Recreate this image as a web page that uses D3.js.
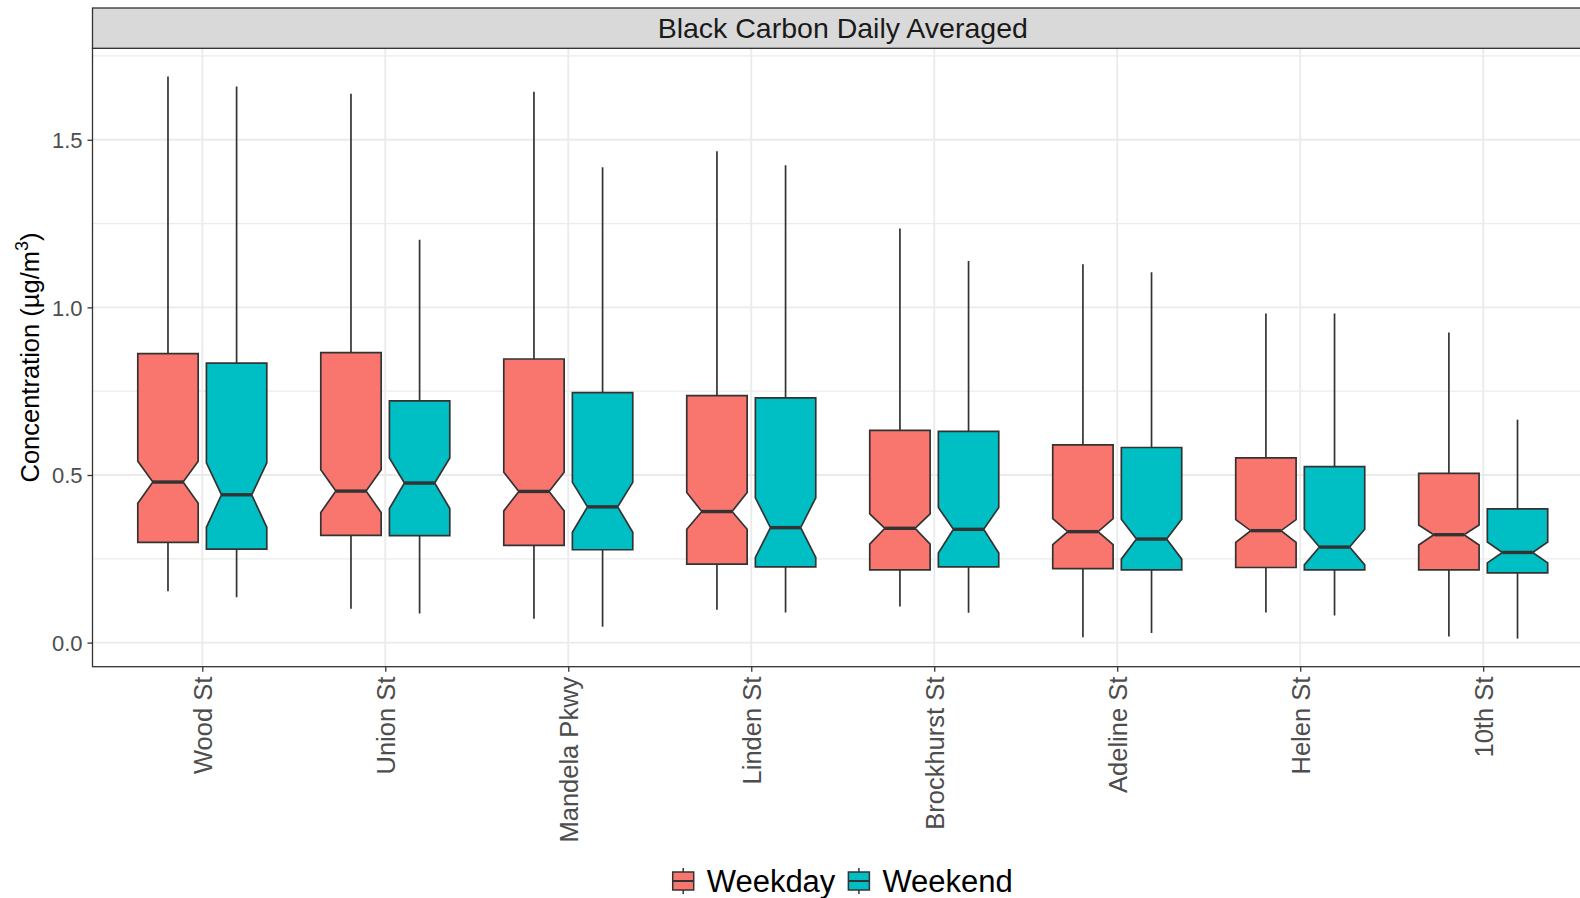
<!DOCTYPE html>
<html>
<head>
<meta charset="utf-8">
<script src="https://cdn.jsdelivr.net/npm/d3@7"></script>
<style>
  html, body { margin: 0; padding: 0; background: #fff; }
  svg { display: block; font-family: "Liberation Sans", Arial, sans-serif; }
</style>
</head>
<body>
<svg id="chart" width="1580" height="898"></svg>
<script>
// ---------------- data ----------------
const categories = ["Wood St", "Union St", "Mandela Pkwy", "Linden St", "Brockhurst St", "Adeline St", "Helen St", "10th St"];
const groups = ["Weekday", "Weekend"];
const groupColors = ["#F8766D", "#00BFC4"];

const weekdayMin     = [0.153, 0.101, 0.071, 0.098, 0.108, 0.016, 0.090, 0.018];
const weekdayQ1      = [0.299, 0.320, 0.290, 0.234, 0.217, 0.221, 0.224, 0.217];
const weekdayNotchLo = [0.416, 0.388, 0.393, 0.338, 0.294, 0.292, 0.299, 0.291];
const weekdayMedian  = [0.479, 0.452, 0.451, 0.391, 0.341, 0.331, 0.334, 0.322];
const weekdayNotchHi = [0.541, 0.516, 0.508, 0.448, 0.384, 0.370, 0.367, 0.351];
const weekdayQ3      = [0.862, 0.865, 0.846, 0.737, 0.633, 0.590, 0.551, 0.505];
const weekdayMax     = [1.689, 1.637, 1.643, 1.466, 1.235, 1.129, 0.982, 0.925];

const weekendMin     = [0.135, 0.087, 0.047, 0.090, 0.089, 0.029, 0.081, 0.012];
const weekendQ1      = [0.279, 0.319, 0.277, 0.226, 0.226, 0.217, 0.217, 0.208];
const weekendNotchLo = [0.344, 0.400, 0.329, 0.254, 0.267, 0.249, 0.232, 0.238];
const weekendMedian  = [0.441, 0.476, 0.405, 0.343, 0.338, 0.309, 0.285, 0.269];
const weekendNotchHi = [0.536, 0.551, 0.478, 0.432, 0.403, 0.368, 0.338, 0.300];
const weekendQ3      = [0.834, 0.721, 0.746, 0.730, 0.630, 0.582, 0.525, 0.399];
const weekendMax     = [1.659, 1.202, 1.418, 1.424, 1.138, 1.105, 0.982, 0.665];

const yMajorTicks = [0, 0.5, 1.0, 1.5];
const yTickLabels = ["0.0", "0.5", "1.0", "1.5"];
const yMinorTicks = [0.25, 0.75, 1.25, 1.75];

const titleText = "Black Carbon Daily Averaged";

// ---------------- build records ----------------
const stats = [
  {min: weekdayMin, q1: weekdayQ1, nlo: weekdayNotchLo, med: weekdayMedian, nhi: weekdayNotchHi, q3: weekdayQ3, max: weekdayMax},
  {min: weekendMin, q1: weekendQ1, nlo: weekendNotchLo, med: weekendMedian, nhi: weekendNotchHi, q3: weekendQ3, max: weekendMax}
];
const boxes = [];
categories.forEach((c, i) => {
  groups.forEach((g, gi) => {
    const s = stats[gi];
    boxes.push({cat: c, group: g, gi: gi,
      min: s.min[i], q1: s.q1[i], nlo: s.nlo[i], med: s.med[i], nhi: s.nhi[i], q3: s.q3[i], max: s.max[i]});
  });
});

// ---------------- layout ----------------
const svg = d3.select("#chart");
const panel = {left: 92.5, right: 1593, top: 48.3, bottom: 666.7};
const strip = {top: 8, bottom: 48.3};

const x = d3.scalePoint().domain(categories).range([panel.left, panel.right]).padding(0.6);
const step = x.step();

const lo = d3.min(boxes, d => d.min), hi = d3.max(boxes, d => d.max);
const pad = (hi - lo) * 0.05;
const y = d3.scaleLinear().domain([lo - pad, hi + pad]).range([panel.bottom, panel.top]);

const color = d3.scaleOrdinal().domain(groups).range(groupColors);
const dodge = d3.scaleBand().domain(groups).range([-0.375 * step, 0.375 * step]);
const boxW = 0.33 * step;

// panel background
svg.append("rect").attr("x", panel.left).attr("y", panel.top)
  .attr("width", panel.right - panel.left).attr("height", panel.bottom - panel.top)
  .attr("fill", "#fff");

// grid
const grid = svg.append("g");
grid.selectAll(".ymin").data(yMinorTicks).join("line")
  .attr("x1", panel.left).attr("x2", panel.right)
  .attr("y1", d => y(d)).attr("y2", d => y(d))
  .attr("stroke", "#EBEBEB").attr("stroke-width", 1.2);
grid.selectAll(".ymaj").data(yMajorTicks).join("line")
  .attr("x1", panel.left).attr("x2", panel.right)
  .attr("y1", d => y(d)).attr("y2", d => y(d))
  .attr("stroke", "#EBEBEB").attr("stroke-width", 1.9);
grid.selectAll(".xmaj").data(categories).join("line")
  .attr("x1", d => x(d)).attr("x2", d => x(d))
  .attr("y1", panel.top).attr("y2", panel.bottom)
  .attr("stroke", "#EBEBEB").attr("stroke-width", 1.9);

// boxes
const bx = d => x(d.cat) + dodge(d.group) + dodge.bandwidth() / 2;
const g = svg.append("g");
// whiskers
g.selectAll(".whisk").data(boxes).join("line")
  .attr("x1", bx).attr("x2", bx)
  .attr("y1", d => y(d.max)).attr("y2", d => y(d.min))
  .attr("stroke", "#333333").attr("stroke-width", 1.7);

// notched body
g.selectAll(".box").data(boxes).join("path")
  .attr("d", d => {
    const cx = bx(d), l = cx - boxW / 2, r = cx + boxW / 2, nw = boxW / 4;
    const pts = [
      [l, y(d.q3)], [l, y(d.nhi)], [l + nw, y(d.med)], [l, y(d.nlo)], [l, y(d.q1)],
      [r, y(d.q1)], [r, y(d.nlo)], [r - nw, y(d.med)], [r, y(d.nhi)], [r, y(d.q3)]
    ];
    return d3.line()(pts) + "Z";
  })
  .attr("fill", d => color(d.group))
  .attr("stroke", "#333333").attr("stroke-width", 1.7).attr("stroke-linejoin", "miter");

// median
g.selectAll(".med").data(boxes).join("line")
  .attr("x1", d => bx(d) - boxW / 2 + boxW / 4).attr("x2", d => bx(d) + boxW / 2 - boxW / 4)
  .attr("y1", d => y(d.med)).attr("y2", d => y(d.med))
  .attr("stroke", "#333333").attr("stroke-width", 3.4);

// panel border
svg.append("rect").attr("x", panel.left).attr("y", panel.top)
  .attr("width", panel.right - panel.left).attr("height", panel.bottom - panel.top)
  .attr("fill", "none").attr("stroke", "#333333").attr("stroke-width", 1.3);

// strip
svg.append("rect").attr("x", panel.left).attr("y", strip.top)
  .attr("width", panel.right - panel.left).attr("height", strip.bottom - strip.top)
  .attr("fill", "#D9D9D9").attr("stroke", "#333333").attr("stroke-width", 1.3);
svg.append("text")
  .attr("x", (panel.left + panel.right) / 2).attr("y", (strip.top + strip.bottom) / 2)
  .attr("dy", "0.36em").attr("text-anchor", "middle")
  .attr("font-size", 28.5).attr("fill", "#1A1A1A").text(titleText);

// y axis
const yAxis = svg.append("g").attr("transform", `translate(${panel.left},0)`)
  .call(d3.axisLeft(y).tickValues(yMajorTicks).tickFormat((d, i) => yTickLabels[i]).tickSize(5).tickPadding(5));
yAxis.select(".domain").remove();
yAxis.selectAll(".tick line").attr("stroke", "#333333").attr("stroke-width", 1.3);
yAxis.selectAll(".tick text").attr("font-size", 22).attr("fill", "#4D4D4D")
  .attr("font-family", "Liberation Sans, Arial, sans-serif").attr("dy", "0.36em");

// x axis
const xAxis = svg.append("g").attr("transform", `translate(0,${panel.bottom})`)
  .call(d3.axisBottom(x).tickSize(5).tickPadding(0));
xAxis.select(".domain").remove();
xAxis.selectAll(".tick line").attr("stroke", "#333333").attr("stroke-width", 1.3);
xAxis.selectAll(".tick text")
  .attr("font-size", 25.5).attr("fill", "#4D4D4D")
  .attr("font-family", "Liberation Sans, Arial, sans-serif")
  .attr("text-anchor", "end")
  .attr("transform", "rotate(-90)")
  .attr("x", -10).attr("y", 0).attr("dy", "0.36em");

// y axis title
const yt = svg.append("text")
  .attr("transform", `translate(39,${(panel.top + panel.bottom) / 2}) rotate(-90)`)
  .attr("text-anchor", "middle").attr("font-size", 25.5).attr("fill", "#000");
yt.append("tspan").text("Concentration (µg/m");
yt.append("tspan").attr("font-size", 18).attr("dy", "-0.6em").text("3");
yt.append("tspan").attr("dy", "0.42em").text(")");

// legend
const leg = svg.append("g");
const keyW = 21, gap = 13, legY = 881;
const tmp = groups.map(gname => {
  const t = leg.append("text").attr("font-size", 31).attr("fill", "#000").text(gname);
  const w = t.node().getComputedTextLength();
  return {t, w, gname};
});
const totalW = tmp.reduce((a, d) => a + keyW + gap + d.w, 0) + gap * (tmp.length - 1);
let cx0 = (panel.left + panel.right) / 2 - totalW / 2;
tmp.forEach((d, i) => {
  const kx = cx0 + keyW / 2;
  leg.append("line").attr("x1", kx).attr("x2", kx).attr("y1", legY - 13).attr("y2", legY + 13)
    .attr("stroke", "#333333").attr("stroke-width", 1.5);
  leg.append("rect").attr("x", cx0).attr("y", legY - 9).attr("width", keyW).attr("height", 18)
    .attr("fill", color(d.gname)).attr("stroke", "#333333").attr("stroke-width", 1.5);
  leg.append("line").attr("x1", cx0).attr("x2", cx0 + keyW).attr("y1", legY).attr("y2", legY)
    .attr("stroke", "#333333").attr("stroke-width", 2);
  d.t.attr("x", cx0 + keyW + gap).attr("y", legY).attr("dy", "0.36em");
  cx0 += keyW + gap + d.w + gap;
});
</script>
</body>
</html>
